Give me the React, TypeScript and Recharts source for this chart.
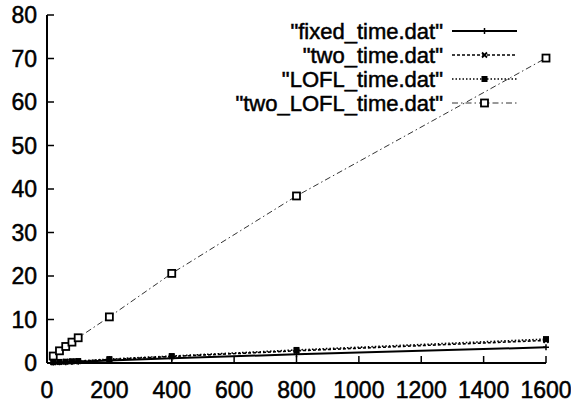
import React from "react";
import { LineChart, Line, XAxis, YAxis } from "recharts";

// problem sizes on the x axis
const sizes = [20, 40, 60, 80, 100, 200, 400, 800, 1600];

// run times
const fixedTime = [0.1, 0.15, 0.2, 0.25, 0.3, 0.6, 1.1, 2.0, 3.6];
const twoTime = [0.15, 0.2, 0.3, 0.35, 0.4, 0.8, 1.5, 2.8, 5.2];
const loflTime = [0.2, 0.25, 0.3, 0.4, 0.45, 0.9, 1.6, 3.0, 5.5];
const twoLoflTime = [1.6, 2.8, 3.8, 4.8, 5.8, 10.6, 20.6, 38.4, 70.1];

const xTicks = [0, 200, 400, 600, 800, 1000, 1200, 1400, 1600];
const yTicks = [0, 10, 20, 30, 40, 50, 60, 70, 80];

const data = sizes.map((n, i) => ({
  n,
  fixed: fixedTime[i],
  two: twoTime[i],
  lofl: loflTime[i],
  twoLofl: twoLoflTime[i],
}));

const W = 571;
const H = 402;
const FONT = "'Liberation Sans', Arial, Helvetica, sans-serif";
const FONT_SIZE = 23;
const TICK_LEN = 7;
const MARGIN = 10;

type Marker = "plus" | "cross" | "fill" | "open";

const series: {
  key: string;
  name: string;
  dash?: string;
  width: number;
  color: string;
  marker: Marker;
}[] = [
  { key: "fixed", name: '"fixed_time.dat"', width: 2, color: "#000", marker: "plus" },
  { key: "two", name: '"two_time.dat"', dash: "3 2", width: 1.6, color: "#000", marker: "cross" },
  { key: "lofl", name: '"LOFL_time.dat"', dash: "1.5 2", width: 1.6, color: "#000", marker: "fill" },
  { key: "twoLofl", name: '"two_LOFL_time.dat"', dash: "6 3 1.5 3", width: 1, color: "#333", marker: "open" },
];

// scanned print looks heavy, so give text a thin outline
const textStyle = { fontFamily: FONT, fontSize: FONT_SIZE, fill: "#000", stroke: "#000", strokeWidth: 0.5 };

function drawMarker(kind: Marker, cx: number, cy: number) {
  if (kind === "plus")
    return <path d={`M${cx - 3},${cy}h6M${cx},${cy - 3}v6`} stroke="#000" strokeWidth={1.5} />;
  if (kind === "cross")
    return (
      <path d={`M${cx - 2.5},${cy - 2.5}l5,5M${cx - 2.5},${cy + 2.5}l5,-5`} stroke="#000" strokeWidth={1.8} />
    );
  if (kind === "fill") return <rect x={cx - 3} y={cy - 3} width={6} height={6} fill="#000" />;
  return <rect x={cx - 3.5} y={cy - 3.5} width={7} height={7} fill="#fff" stroke="#000" strokeWidth={1.8} />;
}

function makeDot(kind: Marker) {
  return (p: any) => {
    if (p.cx == null || p.cy == null) return <g key={p.key} />;
    return <g key={p.key}>{drawMarker(kind, p.cx, p.cy)}</g>;
  };
}

function BottomTick(p: any) {
  const axisY = p.y - MARGIN;
  return (
    <g>
      <line x1={p.x} x2={p.x} y1={axisY} y2={axisY - TICK_LEN} stroke="#000" strokeWidth={1.5} />
      <text x={p.x} y={axisY + 35} textAnchor="middle" {...textStyle}>
        {p.payload.value}
      </text>
    </g>
  );
}

function TopTick(p: any) {
  const axisY = p.y + MARGIN;
  return <line x1={p.x} x2={p.x} y1={axisY} y2={axisY + TICK_LEN} stroke="#000" strokeWidth={1.5} />;
}

function LeftTick(p: any) {
  const axisX = p.x + MARGIN;
  return (
    <g>
      <line x1={axisX} x2={axisX + TICK_LEN} y1={p.y} y2={p.y} stroke="#000" strokeWidth={1.5} />
      <text x={axisX - 10} y={p.y + 8} textAnchor="end" {...textStyle}>
        {p.payload.value}
      </text>
    </g>
  );
}

function RightTick(p: any) {
  const axisX = p.x - MARGIN;
  return <line x1={axisX} x2={axisX - TICK_LEN} y1={p.y} y2={p.y} stroke="#000" strokeWidth={1.5} />;
}

function LegendBox() {
  const textRight = 443;
  const x1 = 452;
  const x2 = 517;
  const rowY = [31, 55, 79, 103];
  return (
    <svg width={W} height={H} style={{ position: "absolute", left: 0, top: 0, pointerEvents: "none" }}>
      {series.map((s, i) => (
        <g key={s.key}>
          <text x={textRight} y={rowY[i] + 8} textAnchor="end" {...textStyle} fontSize={22}>
            {s.name}
          </text>
          <line x1={x1} x2={x2} y1={rowY[i]} y2={rowY[i]} stroke={s.color} strokeWidth={s.width} strokeDasharray={s.dash} />
          {drawMarker(s.marker, (x1 + x2) / 2, rowY[i])}
        </g>
      ))}
    </svg>
  );
}

export default function App() {
  return (
    <div style={{ position: "absolute", left: 0, top: 0, width: W, height: H, background: "#fff" }}>
      <LineChart width={W} height={H} data={data} margin={{ top: 15, right: 25, bottom: 0, left: 0 }}>
        <XAxis
          dataKey="n"
          type="number"
          domain={[0, 1600]}
          ticks={xTicks}
          height={39}
          axisLine={{ stroke: "#000", strokeWidth: 2 }}
          tickLine={false}
          tickSize={0}
          tickMargin={MARGIN}
          tick={<BottomTick />}
        />
        <XAxis
          xAxisId="top"
          orientation="top"
          type="number"
          domain={[0, 1600]}
          ticks={xTicks}
          height={0}
          axisLine={{ stroke: "#000", strokeWidth: 2 }}
          tickLine={false}
          tickSize={0}
          tickMargin={MARGIN}
          tick={<TopTick />}
        />
        <YAxis
          type="number"
          domain={[0, 80]}
          ticks={yTicks}
          width={47}
          axisLine={{ stroke: "#000", strokeWidth: 2 }}
          tickLine={false}
          tickSize={0}
          tickMargin={MARGIN}
          tick={<LeftTick />}
        />
        <YAxis
          yAxisId="right"
          orientation="right"
          type="number"
          domain={[0, 80]}
          ticks={yTicks}
          width={0}
          axisLine={{ stroke: "#000", strokeWidth: 2 }}
          tickLine={false}
          tickSize={0}
          tickMargin={MARGIN}
          tick={<RightTick />}
        />
        {series.map((s) => (
          <Line
            key={s.key}
            dataKey={s.key}
            name={s.name}
            stroke={s.color}
            strokeWidth={s.width}
            strokeDasharray={s.dash}
            dot={makeDot(s.marker)}
            activeDot={false}
            isAnimationActive={false}
          />
        ))}
      </LineChart>
      <LegendBox />
    </div>
  );
}
